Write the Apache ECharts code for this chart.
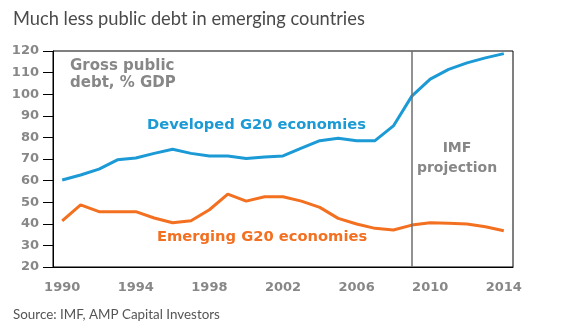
<!DOCTYPE html>
<html>
<head>
<meta charset="utf-8">
<script src="https://cdn.jsdelivr.net/npm/echarts@6/dist/echarts.min.js"></script>
<style>
  html, body { margin: 0; padding: 0; background: #fff; }
  #chart { width: 571px; height: 333px; }
</style>
</head>
<body>
<div id="chart"></div>
<script>
// Gross public debt, % of GDP (IMF; projections from 2009 on)
const years = ['1990','1991','1992','1993','1994','1995','1996','1997','1998','1999',
               '2000','2001','2002','2003','2004','2005','2006','2007','2008','2009',
               '2010','2011','2012','2013','2014'];
const developed = [60.3, 62.6, 65.3, 69.6, 70.5, 72.6, 74.5, 72.6, 71.4, 71.4,
                   70.2, 70.9, 71.4, 75.0, 78.5, 79.6, 78.5, 78.5, 85.3, 99.1,
                   107.0, 111.5, 114.5, 116.8, 118.8];
const emerging  = [41.4, 48.8, 45.6, 45.6, 45.6, 42.7, 40.5, 41.4, 46.5, 53.7,
                   50.5, 52.5, 52.5, 50.5, 47.6, 42.5, 39.9, 37.9, 37.1, 39.4,
                   40.5, 40.3, 39.9, 38.6, 36.8];
const projectionStart = '2009';
const yMin = 20, yMax = 120, yStep = 10;

const BLUE = '#1b9ad6';
const ORANGE = '#f37021';
const GREY = '#878787';
const AXIS_FONT = 'DejaVu Sans';

const chart = echarts.init(document.getElementById('chart'), null, { renderer: 'canvas' });

chart.setOption({
  animation: false,
  backgroundColor: '#fff',
  grid: {
    left: 53, right: 58, top: 51, bottom: 66,
    show: true, borderColor: '#000', borderWidth: 1, backgroundColor: 'transparent'
  },
  xAxis: {
    type: 'category',
    data: years,
    boundaryGap: true,
    axisLine: { lineStyle: { color: '#000', width: 1 } },
    axisTick: { interval: 3, length: 5, lineStyle: { color: '#000' } },
    axisLabel: {
      interval: 3, margin: 14,
      color: GREY, fontFamily: AXIS_FONT, fontWeight: 'bold', fontSize: 13
    },
    splitLine: { show: false }
  },
  yAxis: {
    type: 'value',
    min: yMin, max: yMax, interval: yStep,
    axisLine: { show: true, lineStyle: { color: '#000', width: 1 } },
    axisTick: { show: true, length: 10, lineStyle: { color: '#000' } },
    axisLabel: {
      margin: 14,
      color: GREY, fontFamily: AXIS_FONT, fontWeight: 'bold', fontSize: 13
    },
    splitLine: { show: false }
  },
  series: [
    {
      name: 'Developed G20 economies',
      type: 'line',
      data: developed,
      symbol: 'none',
      lineStyle: { color: BLUE, width: 3 },
      z: 3,
      markLine: {
        silent: true,
        symbol: 'none',
        label: { show: false },
        lineStyle: { color: '#6e6e6e', width: 1.5, type: 'solid' },
        data: [{ xAxis: projectionStart }]
      }
    },
    {
      name: 'Emerging G20 economies',
      type: 'line',
      data: emerging,
      symbol: 'none',
      lineStyle: { color: ORANGE, width: 3 },
      z: 3
    }
  ],
  graphic: [
    {
      type: 'text', left: 13, top: 10,
      style: { text: 'Much less public debt in emerging countries', fill: '#4a4a4a',
               font: '18.3px Lato' }
    },
    {
      type: 'text', left: 13, top: 308,
      style: { text: 'Source: IMF, AMP Capital Investors', fill: '#555',
               font: '13.4px Lato' }
    },
    {
      type: 'text', left: 70, top: 58,
      style: { text: 'Gross public\ndebt, % GDP', fill: GREY, lineHeight: 16.5,
               font: 'bold 15px "DejaVu Sans"' }
    },
    {
      type: 'text', left: 147, top: 118,
      style: { text: 'Developed G20 economies', fill: BLUE,
               font: 'bold 14.7px "DejaVu Sans"' }
    },
    {
      type: 'text', left: 157, top: 230,
      style: { text: 'Emerging G20 economies', fill: ORANGE,
               font: 'bold 14.7px "DejaVu Sans"' }
    },
    {
      type: 'text', x: 457, y: 138,
      style: { text: 'IMF\nprojection', fill: GREY, align: 'center', lineHeight: 20,
               font: 'bold 14px "DejaVu Sans"' }
    }
  ]
});
</script>
</body>
</html>
